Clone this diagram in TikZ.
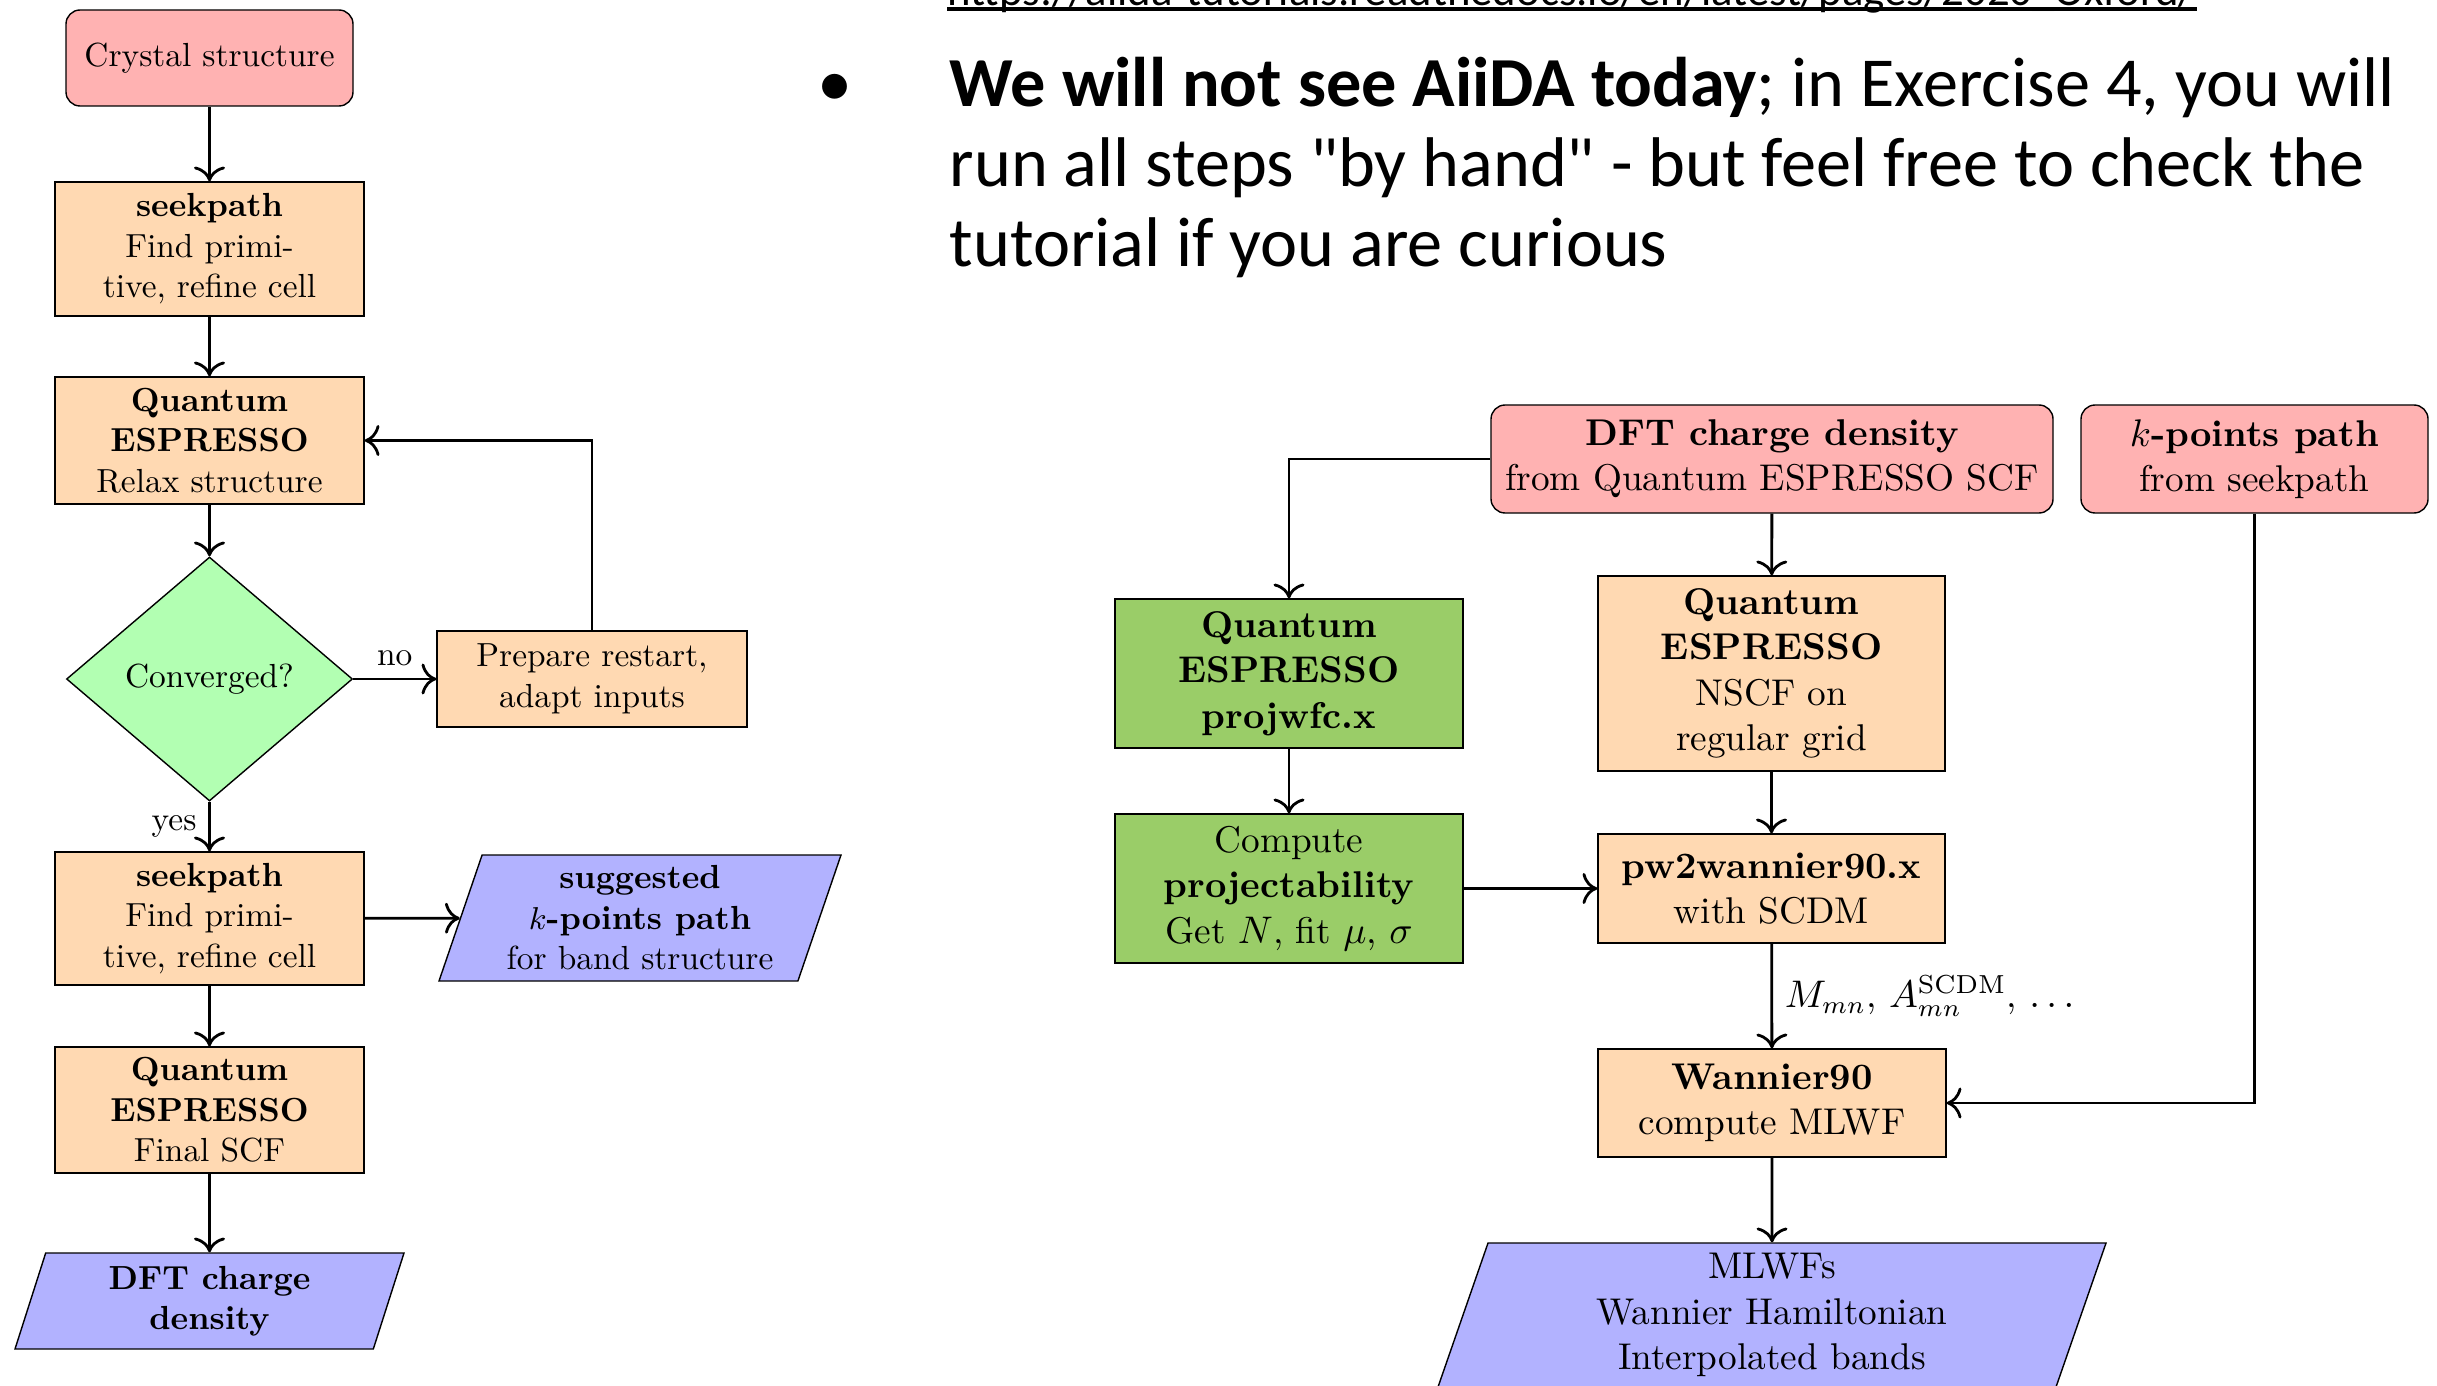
\documentclass[tikz,border=0pt]{standalone}
\usepackage{fontspec}
\usetikzlibrary{shapes.geometric,arrows.meta}
\newfontfamily\slidefont{Carlito}
\definecolor{toolgreen}{RGB}{154,205,104}

\tikzset{
    startbox/.style={rectangle, rounded corners, draw, fill=red!30, align=center, inner sep=2pt},
    procbox/.style={rectangle, draw, fill=orange!30, align=center, inner sep=2pt},
    toolbox/.style={rectangle, draw, fill=toolgreen, align=center, inner sep=2pt},
    testbox/.style={diamond, draw, fill=green!30, aspect=1.17, inner sep=0pt},
    databox/.style={trapezium, trapezium left angle=70, trapezium right angle=110,
        trapezium stretches body, draw, fill=blue!30, align=center, inner sep=2pt},
    flow/.style={-{To[scale=1.25]}, thick},
    small/.style={font=\fontsize{9.5}{11.5}\selectfont},
    large/.style={font=\fontsize{10.6}{12.9}\selectfont},
}

\begin{document}
\begin{tikzpicture}
    \useasboundingbox (0,0) rectangle (24.37,-13.86);

    % slide text
    \node[anchor=base west, inner sep=0pt, font=\slidefont\fontsize{12.75}{15}\selectfont] (url) at (9.47,-0.06)
        {https://aiida-tutorials.readthedocs.io/en/latest/pages/2020\_Oxford/};
    \draw[line width=1.4pt] ([yshift=-0.03cm]url.base west) -- ([yshift=-0.03cm]url.base east);
    \node[anchor=base, inner sep=0pt, font=\slidefont\fontsize{20}{24}\selectfont] (dot) at (8.35,-1.07) {\textbullet};
    \node[anchor=base west, inner sep=0pt, font=\slidefont\fontsize{20}{24}\selectfont] (line1) at (9.49,-1.07)
        {\textbf{We will not see AiiDA today}; in Exercise 4, you will};
    \node[anchor=base west, inner sep=0pt, font=\slidefont\fontsize{20}{24}\selectfont] (line2) at (9.49,-1.87)
        {run all steps "by hand" - but feel free to check the};
    \node[anchor=base west, inner sep=0pt, font=\slidefont\fontsize{20}{24}\selectfont] (line3) at (9.49,-2.67)
        {tutorial if you are curious};

    % structure relaxation workflow
    \begin{scope}[small]
        \node[startbox, minimum width=2.87cm, minimum height=0.96cm] (crystal) at (2.095,-0.58) {Crystal structure};
        \node[procbox, minimum width=3.09cm, minimum height=1.34cm] (seek1) at (2.095,-2.49)
            {\textbf{seekpath}\\Find primi-\\tive, refine cell};
        \node[procbox, minimum width=3.09cm, minimum height=1.27cm] (relax) at (2.095,-4.405)
            {\textbf{Quantum}\\\textbf{ESPRESSO}\\Relax structure};
        \node[testbox, minimum width=2.86cm, minimum height=2.44cm] (conv) at (2.095,-6.79) {Converged?};
        \node[procbox, minimum width=3.10cm, minimum height=0.96cm] (restart) at (5.92,-6.79)
            {Prepare restart,\\adapt inputs};
        \node[procbox, minimum width=3.09cm, minimum height=1.33cm] (seek2) at (2.095,-9.185)
            {\textbf{seekpath}\\Find primi-\\tive, refine cell};
        \node[databox, minimum width=4.02cm, minimum height=1.26cm] (kout) at (6.40,-9.18)
            {\textbf{suggested}\\\textbf{$k$-points path}\\for band structure};
        \node[procbox, minimum width=3.09cm, minimum height=1.26cm] (final) at (2.095,-11.10)
            {\textbf{Quantum}\\\textbf{ESPRESSO}\\Final SCF};
        \node[databox, minimum width=3.89cm, minimum height=0.96cm] (rho) at (2.095,-13.01)
            {\textbf{DFT charge}\\\textbf{density}};

        \draw[flow] (crystal) -- (seek1);
        \draw[flow] (seek1) -- (relax);
        \draw[flow] (relax) -- (conv);
        \draw[flow] (conv) -- node[above] {no} (restart);
        \draw[flow] (restart.north) |- (relax.east);
        \draw[flow] (conv) -- node[left] {yes} (seek2);
        \draw[flow] (seek2) -- (kout);
        \draw[flow] (seek2) -- (final);
        \draw[flow] (final) -- (rho);
    \end{scope}

    % Wannierisation workflow
    \begin{scope}[large]
        \node[startbox, minimum width=5.62cm, minimum height=1.08cm] (scf) at (17.72,-4.59)
            {\textbf{DFT charge density}\\from Quantum ESPRESSO SCF};
        \node[startbox, minimum width=3.47cm, minimum height=1.08cm] (kpath) at (22.545,-4.59)
            {\textbf{$k$-points path}\\from seekpath};
        \node[toolbox, minimum width=3.48cm, minimum height=1.49cm] (proj) at (12.89,-6.735)
            {\textbf{Quantum}\\\textbf{ESPRESSO}\\\textbf{projwfc.x}};
        \node[procbox, minimum width=3.47cm, minimum height=1.95cm] (nscf) at (17.715,-6.735)
            {\textbf{Quantum}\\\textbf{ESPRESSO}\\NSCF on\\regular grid};
        \node[toolbox, minimum width=3.48cm, minimum height=1.49cm] (fit) at (12.89,-8.885)
            {Compute\\\textbf{projectability}\\Get $N$, fit $\mu$, $\sigma$};
        \node[procbox, minimum width=3.47cm, minimum height=1.09cm] (pw2wan) at (17.715,-8.885)
            {\textbf{pw2wannier90.x}\\with SCDM};
        \node[procbox, minimum width=3.48cm, minimum height=1.08cm] (w90) at (17.72,-11.03)
            {\textbf{Wannier90}\\compute MLWF};
        \node[databox, minimum width=6.68cm, minimum height=1.44cm] (mlwf) at (17.72,-13.15)
            {MLWFs\\Wannier Hamiltonian\\Interpolated bands};

        \draw[flow] (scf.west) -| (proj.north);
        \draw[flow] (scf) -- (nscf);
        \draw[flow] (proj) -- (fit);
        \draw[flow] (nscf) -- (pw2wan);
        \draw[flow] (fit) -- (pw2wan);
        \draw[flow] (pw2wan) -- node[right] {$M_{mn}$, $A_{mn}^{\mathrm{SCDM}}$, $\ldots$} (w90);
        \draw[flow] (kpath.south) |- (w90.east);
        \draw[flow] (w90) -- (mlwf);
    \end{scope}
\end{tikzpicture}
\end{document}
